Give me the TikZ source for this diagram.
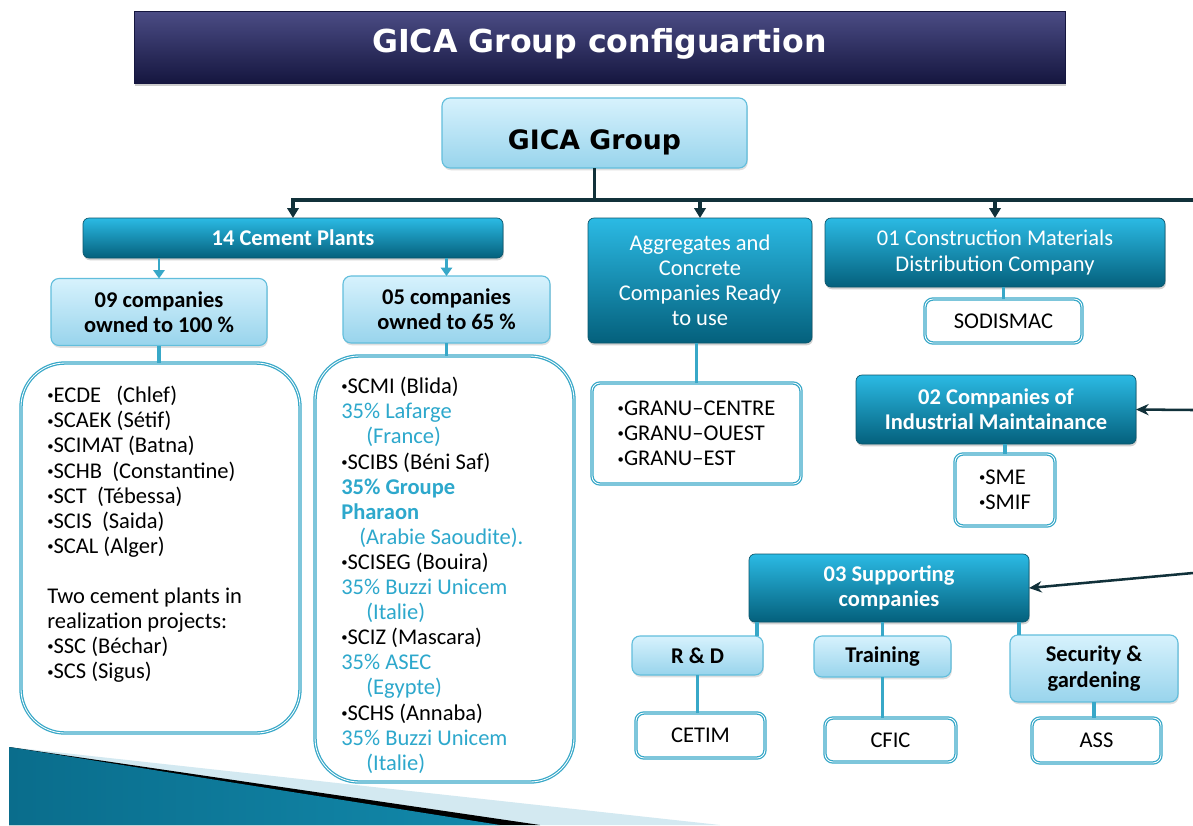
\documentclass[tikz,border=0pt]{standalone}
\usepackage{fontspec}
\setmainfont{Carlito}
\newfontfamily\headfont{DejaVu Sans}
\usetikzlibrary{arrows.meta,shadows,calc}

\definecolor{navytop}{HTML}{4B4C85}
\definecolor{navybot}{HTML}{15163F}
\definecolor{skytop}{HTML}{D7F2FD}
\definecolor{skybot}{HTML}{98D4EC}
\definecolor{skyline}{HTML}{62BEDC}
\definecolor{tealtop}{HTML}{2BBAE4}
\definecolor{tealbot}{HTML}{04607C}
\definecolor{tealedge}{HTML}{0A566C}
\definecolor{linkteal}{HTML}{38A8C8}
\definecolor{busline}{HTML}{11313A}
\definecolor{partner}{HTML}{2DA8CC}
\definecolor{wedgelight}{HTML}{D3E9F1}
\definecolor{wedgedark}{HTML}{0A6D8C}
\definecolor{wedgemid}{HTML}{58B5D3}
\definecolor{wedgeend}{HTML}{1289AB}

\newcommand\bodyfont{\fontsize{16}{17.85}\selectfont}
\newcommand\partner[1]{\textcolor{partner}{#1}}
\newcommand\bul{\raisebox{2pt}{\fontsize{9}{9}\selectfont •}}

\tikzset{
  wh/.style 2 args={minimum width=#1*0.025cm, minimum height=#2*0.025cm},
  darkbox/.style={rounded corners=0.15cm, top color=tealtop, bottom color=tealbot,
    draw=tealedge, line width=0.5pt, text=white, align=center, font=\bodyfont,
    inner sep=0pt, outer sep=0pt,
    drop shadow={opacity=0.35, shadow xshift=0.6pt, shadow yshift=-1.6pt}},
  lightbox/.style={rounded corners=0.2cm, top color=skytop, bottom color=skybot,
    draw=skyline, line width=0.8pt, align=center, font=\bfseries\bodyfont,
    inner sep=0pt, outer sep=0pt,
    drop shadow={opacity=0.25, shadow xshift=0.6pt, shadow yshift=-1.6pt}},
  ringbox/.style={rounded corners=0.2cm, fill=white, draw=linkteal, line width=0.9pt,
    double=white, double distance=0.6pt, font=\bodyfont, align=left,
    inner sep=0pt, outer sep=0pt},
  listtext/.style={align=left, font=\bodyfont, inner sep=0pt, anchor=north west},
  bus/.style={draw=busline, line width=2.4pt},
  busarrow/.style={bus, -{Triangle[length=7pt,width=8pt]}},
  feed/.style={draw=busline, line width=1.8pt, -{Stealth[length=9pt,width=8pt]}},
  link/.style={draw=linkteal, line width=2.5pt},
  linkarrow/.style={draw=linkteal, line width=2pt, -{Triangle[length=6pt,width=8pt]}}
}

\begin{document}
\begin{tikzpicture}[x=0.025cm, y=-0.025cm]
\path[use as bounding box, fill=white] (0,0) rectangle (1193,825);

% corner wedge
\fill[wedgelight] (9,747) -- (720,825) -- (9,825) -- cycle;
\fill[black] (9,747) -- (540,825) -- (9,825) -- cycle;
\shade[left color=wedgedark, middle color=wedgemid, right color=wedgeend]
  (9,747) -- (500,825) -- (9,825) -- cycle;

% heading
\node[top color=navytop, bottom color=navybot, draw=navybot, wh={931}{72},
  inner sep=0pt, text=white, font=\headfont\bfseries\fontsize{22.5}{26}\selectfont,
  text height=16.4pt, text depth=8.6pt,
  drop shadow={opacity=0.4, shadow xshift=1pt, shadow yshift=-2pt}]
  (title) at (599.5,47) {GICA Group configuartion};

\node[lightbox, wh={305}{70}, font=\headfont\bfseries\fontsize{19}{22}\selectfont,
  text height=23.5pt, text depth=0pt] (gica) at (594.5,133) {GICA Group};

% first level
\node[darkbox, wh={420}{40}, font=\bfseries\bodyfont] (cement14) at (293,238) {14 Cement Plants};
\node[darkbox, wh={224}{125}] (aggr) at (700,280.5) {Aggregates and\\Concrete\\Companies Ready\\to use};
\node[darkbox, wh={340}{69}] (constr) at (995,252.5) {01 Construction Materials\\Distribution Company};
\node[darkbox, wh={280}{69}, font=\bfseries\bodyfont] (maint) at (996,409.5) {02 Companies of\\Industrial Maintainance};
\node[darkbox, wh={280}{68}, font=\bfseries\bodyfont] (support) at (889,588) {03 Supporting\\companies};

\coordinate (east) at (1193,200);
\coordinate (maintfeed) at (1193,410);
\coordinate (supportfeed) at (1193,573);
\draw[bus] (gica.south) -- ++(0,32) coordinate (hub);
\draw[busarrow] (east) -- (cement14.north |- hub) -- (cement14.north);
\draw[busarrow] (aggr.north |- hub) -- (aggr.north);
\draw[busarrow] (constr.north |- hub) -- (constr.north);
\draw[feed] (maintfeed) -- (maint.east);
\draw[feed] (supportfeed) -- (support.east);

% cement plants
\node[lightbox, wh={216}{67}] (own100) at (159,312) {09 companies\\owned to 100 \%};
\node[lightbox, wh={207}{67}] (own65) at (446.5,309.5) {05 companies\\owned to 65 \%};
\draw[linkarrow] (own100.north |- cement14.south) -- (own100.north);
\draw[linkarrow] (own65.north |- cement14.south) -- (own65.north);

\node[ringbox, rounded corners=1.1cm, wh={279}{370}] (list9) at (160.5,548) {};
\node[ringbox, rounded corners=1.1cm, wh={259}{426}] (list65) at (444.5,569) {};
\draw[link] (own100.south) -- (own100.south |- list9.north);
\draw[link] (own65.south) -- (own65.south |- list65.north);

\node[listtext] (list9txt) at (47,386) {%
  \bul ECDE\ \ \ (Chlef)\\
  \bul SCAEK (Sétif)\\
  \bul SCIMAT (Batna)\\
  \bul SCHB\ \ (Constantine)\\
  \bul SCT\ \ (Tébessa)\\
  \bul SCIS\ \ (Saida)\\
  \bul SCAL (Alger)\\[17.85pt]
  Two cement plants in\\
  realization projects:\\
  \bul SSC (Béchar)\\
  \bul SCS (Sigus)};

\node[listtext] (list65txt) at (341,377) {%
  \bul SCMI (Blida)\\
  \partner{35\% Lafarge}\\
  \hspace*{17.8pt}\partner{(France)}\\
  \bul SCIBS (Béni Saf)\\
  \partner{\bfseries 35\% Groupe}\\
  \partner{\bfseries Pharaon}\\
  \hspace*{12.8pt}\partner{(Arabie Saoudite).}\\
  \bul SCISEG (Bouira)\\
  \partner{35\% Buzzi Unicem}\\
  \hspace*{17.8pt}\partner{(Italie)}\\
  \bul SCIZ (Mascara)\\
  \partner{35\% ASEC}\\
  \hspace*{17.8pt}\partner{(Egypte)}\\
  \bul SCHS\ (Annaba)\\
  \partner{35\% Buzzi Unicem}\\
  \hspace*{17.8pt}\partner{(Italie)}};

% aggregates, distribution, maintenance
\node[ringbox, wh={209}{101}] (granu) at (696.5,433.5) {\bul GRANU--CENTRE\\\bul GRANU--OUEST\\\bul GRANU--EST};
\draw[link] (granu.north) -- (granu.north |- aggr.south);

\node[ringbox, wh={157}{44}, align=center] (sodismac) at (1003.5,321) {SODISMAC};
\draw[link] (sodismac.north) -- (sodismac.north |- constr.south);

\node[ringbox, wh={100}{72}] (sme) at (1005,490) {\bul SME\\\bul SMIF};
\draw[link] (sme.north) -- (sme.north |- maint.south);

% supporting companies
\node[lightbox, wh={131}{39}] (rd) at (697.5,655.5) {R \& D};
\node[lightbox, wh={137}{41}] (training) at (882.5,656.5) {Training};
\node[lightbox, wh={168}{67}] (security) at (1094,668.5) {Security \&\\gardening};
\draw[link] ($(support.south west)+(8,0)$) -- ($(rd.north west)+(125,0)$);
\draw[link] (training.north) -- (training.north |- support.south);
\draw[link] ($(support.south east)+(-10,0)$) -- ($(security.north west)+(9,0)$);

\node[ringbox, wh={129}{45}, align=center] (cetim) at (700.5,735.5) {CETIM};
\node[ringbox, wh={131}{44}, align=center] (cfic) at (890.5,740) {CFIC};
\node[ringbox, wh={129}{45}, align=center] (ass) at (1096.5,740.5) {ASS};
\draw[link] (rd.south) -- (rd.south |- cetim.north);
\draw[link] (training.south) -- (training.south |- cfic.north);
\draw[link] (security.south) -- (security.south |- ass.north);
\end{tikzpicture}
\end{document}
